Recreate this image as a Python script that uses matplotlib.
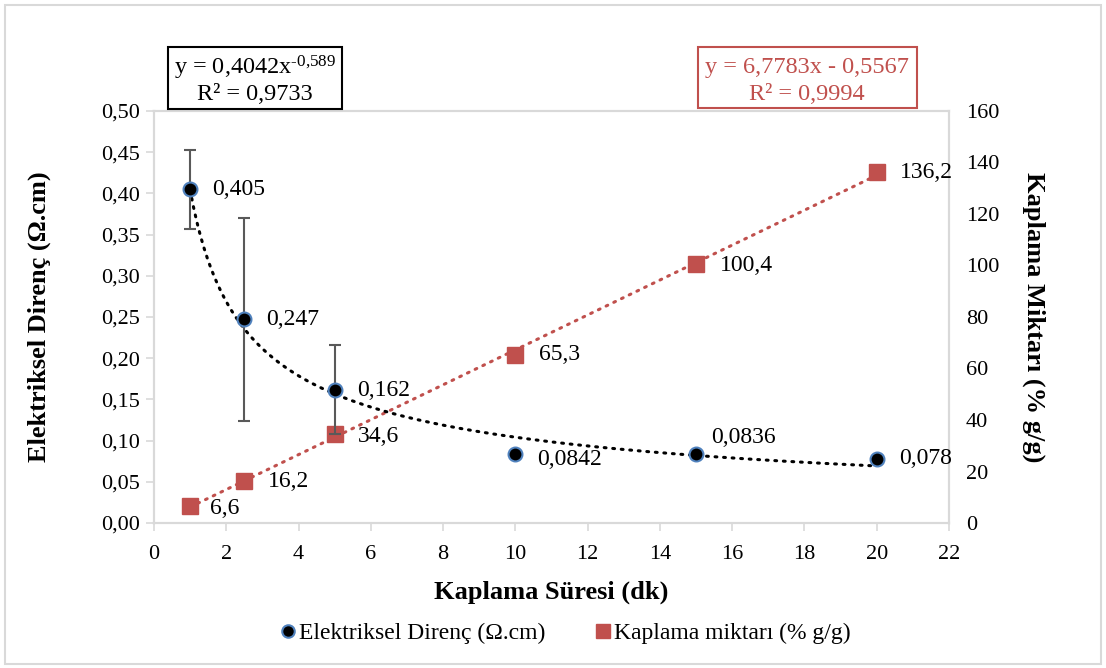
import matplotlib
matplotlib.use("Agg")
import matplotlib.pyplot as plt
import numpy as np
from matplotlib.patches import Rectangle

plt.rcParams['font.family'] = ['Liberation Serif', 'DejaVu Serif']
plt.rcParams['mathtext.fontset'] = 'custom'
plt.rcParams['mathtext.rm'] = 'Liberation Serif'
plt.rcParams['mathtext.it'] = 'Liberation Serif:italic'

# data
sure = [1, 2.5, 5, 10, 15, 20]
direnc = [0.405, 0.247, 0.162, 0.0842, 0.0836, 0.078]
direnc_err = [0.048, 0.1235, 0.054, 0, 0, 0]
direnc_labels = ["0,405", "0,247", "0,162", "0,0842", "0,0836", "0,078"]
kaplama = [6.6, 16.2, 34.6, 65.3, 100.4, 136.2]
kaplama_labels = ["6,6", "16,2", "34,6", "65,3", "100,4", "136,2"]
pow_a, pow_b = 0.4042, -0.589
lin_m, lin_c = 6.7783, -0.5567
xticks = list(range(0, 23, 2))
yticks_left = [0, 0.05, 0.10, 0.15, 0.20, 0.25, 0.30, 0.35, 0.40, 0.45, 0.50]
yticks_right = list(range(0, 161, 20))

RED = '#C0504D'
BLUE = '#4F81BD'
GRAY = '#D9D9D9'

fig = plt.figure(figsize=(11.06, 6.68), dpi=100)
ax = fig.add_axes([0.1392, 0.217, 0.7189, 0.617])
ax2 = ax.twinx()

# trend lines
xt = np.linspace(1, 20, 200)
ax.plot(xt, pow_a * xt ** pow_b, color='black', lw=2.2, ls=(0, (0.6, 2.2)),
        dash_capstyle='round', zorder=2)
ax2.plot(xt, lin_m * xt + lin_c, color=RED, lw=2.2, ls=(0, (0.6, 2.2)),
         dash_capstyle='round', zorder=2)

# error bars & points
ax.errorbar(sure, direnc, yerr=direnc_err, fmt='none', ecolor='#595959',
            elinewidth=1.5, capsize=4.5, capthick=1.5, zorder=3)
ax2.plot(sure, kaplama, 's', color=RED, ms=11, zorder=4)
ax.set_zorder(ax2.get_zorder() + 1)
ax.patch.set_visible(False)
ax.plot(sure, direnc, 'o', mfc='black', mec=BLUE, mew=1.5, ms=10, zorder=5)

# data labels
fs_lab = 17
loff = {0: (16, 0), 1: (16, 0), 2: (16, -1), 3: (16, -4), 4: (11, 12), 5: (16, 0)}
for i, (x, y, t) in enumerate(zip(sure, direnc, direnc_labels)):
    dx, dy = loff[i]
    ax.annotate(t, (x, y), xytext=(dx, dy), textcoords='offset points',
                ha='left', va='center', fontsize=fs_lab, zorder=6,
                annotation_clip=False, clip_on=False)
koff = {0: (14, -2), 1: (17, 0), 2: (17, -2), 3: (17, 0), 4: (17, -1), 5: (17, 0)}
for i, (x, y, t) in enumerate(zip(sure, kaplama, kaplama_labels)):
    dx, dy = koff[i]
    ax.annotate(t, (x, y), xycoords=ax2.transData, xytext=(dx, dy),
                textcoords='offset points', ha='left', va='center',
                fontsize=fs_lab, zorder=6, annotation_clip=False, clip_on=False)

# axes
fs = 16
ax.set_xlim(0, 22)
ax.set_ylim(0, 0.5)
ax2.set_ylim(0, 160)
ax.set_xticks(xticks)
ax.set_xticklabels([str(v) for v in xticks], fontsize=fs)
ax.set_yticks(yticks_left)
ax.set_yticklabels([f"{v:.2f}".replace('.', ',') for v in yticks_left], fontsize=fs)
ax2.set_yticks(yticks_right)
ax2.set_yticklabels([str(v) for v in yticks_right], fontsize=fs)

for a in (ax, ax2):
    for s in a.spines.values():
        s.set_color(GRAY)
        s.set_linewidth(1.5)
ax.tick_params(axis='y', color=GRAY, width=1.2, length=6, pad=4)
ax.tick_params(axis='x', color=GRAY, width=1.2, length=6, pad=10)
ax2.tick_params(axis='y', length=0, pad=12)

ax.set_xlabel('Kaplama Süresi (dk)', fontsize=19, fontweight='bold', labelpad=12)
ax.set_ylabel('Elektriksel Direnç (Ω.cm)', fontsize=19, fontweight='bold', labelpad=36)
ax2.set_ylabel('Kaplama Miktarı (% g/g)', fontsize=19, fontweight='bold',
               rotation=-90, labelpad=33)

# equation boxes
fs_eq = 17.5
fig.text(255 / 1106, 1 - 68 / 668, r'y = 0,4042x$^{\text{-0,589}}$', ha='center',
         va='center', fontsize=fs_eq)
fig.text(255 / 1106, 1 - 95 / 668, 'R² = 0,9733', ha='center', va='center', fontsize=fs_eq)
fig.patches.append(Rectangle((168 / 1106, 1 - 109 / 668), 174 / 1106, 62 / 668,
                             transform=fig.transFigure, fill=False, ec='black', lw=1.5))
fig.text(807 / 1106, 1 - 68 / 668, 'y = 6,7783x - 0,5567', ha='center', va='center',
         fontsize=fs_eq, color=RED)
fig.text(807 / 1106, 1 - 95 / 668, 'R² = 0,9994', ha='center', va='center',
         fontsize=fs_eq, color=RED)
fig.patches.append(Rectangle((698 / 1106, 1 - 108 / 668), 219 / 1106, 61 / 668,
                             transform=fig.transFigure, fill=False, ec=RED, lw=1.5))

# legend
h1 = plt.Line2D([], [], marker='o', ls='none', mfc='black', mec=BLUE, mew=1.5, ms=9)
h2 = plt.Line2D([], [], marker='s', ls='none', color=RED, ms=10)
fig.legend([h1, h2], ['Elektriksel Direnç (Ω.cm)', 'Kaplama miktarı (% g/g)'],
           loc='center', bbox_to_anchor=(564 / 1106, 1 - 633 / 668), ncol=2,
           frameon=False, fontsize=17, handletextpad=0.0, columnspacing=2.0,
           handlelength=0.9)

# outer border
fig.patches.append(Rectangle((5 / 1106, 4 / 668), 1096 / 1106, 659 / 668,
                             transform=fig.transFigure, fill=False, ec=GRAY, lw=1.5))

fig.savefig('out.png', dpi=100)
